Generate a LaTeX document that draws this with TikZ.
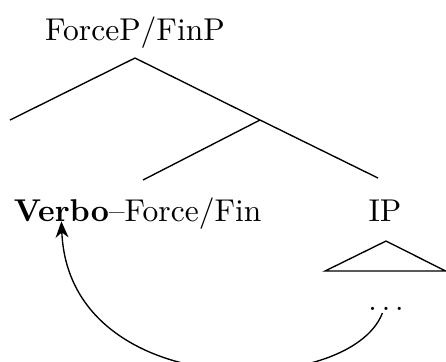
\documentclass[tikz,border=0pt]{standalone}
\usetikzlibrary{arrows.meta,positioning}
\definecolor{ink}{RGB}{0,0,0}
\tikzset{
  >={Stealth[length=1.9mm,width=1.5mm]},
  lbl/.style={inner sep=0pt,outer sep=0pt,font=\fontsize{10.4}{12}\selectfont,text=ink},
  branch/.style={draw=ink,line width=0.45pt},
  roof/.style={draw=ink,line width=0.45pt,line join=miter},
  move/.style={->,draw=ink,line width=0.45pt},
}

\begin{document}
\begin{tikzpicture}
    \useasboundingbox (0,0) rectangle (5.174,-4.188);
    % labels
    \node[lbl,anchor=base] (root) at (1.566,-0.464) {ForceP/FinP};
    \node[lbl,anchor=base west] (verb) at (0.160,-2.564) {\textbf{Verbo}};
    \node[lbl,anchor=base west] (fin) at (verb.base east) {--Force/Fin};
    \node[lbl,anchor=base] (ip) at (4.466,-2.564) {IP};
    \node[lbl,anchor=base] (dots) at (4.478,-3.596) {$\ldots$};
    % branching points
    \coordinate (top) at (1.566,-0.673);
    \coordinate (spec) at (0.116,-1.392);
    \coordinate (bar) at (3.016,-1.392);
    \coordinate (finedge) at (1.659,-2.088);
    \coordinate (ipedge) at (4.385,-2.065);
    \coordinate (roofA) at (4.478,-2.796);
    \coordinate (roofL) at (3.770,-3.144);
    \coordinate (roofR) at (5.170,-3.144);
    \draw[branch] (spec) -- (top) -- (bar) -- (ipedge);
    \draw[branch] (bar) -- (finedge);
    \draw[roof] (roofA) -- (roofL) -- (roofR) -- cycle;
    % head movement
    \draw[move] ([xshift=-1.2pt,yshift=-1pt]dots.south) .. controls (4.06,-4.62) and (0.80,-4.68) .. (verb.south);
\end{tikzpicture}
\end{document}
